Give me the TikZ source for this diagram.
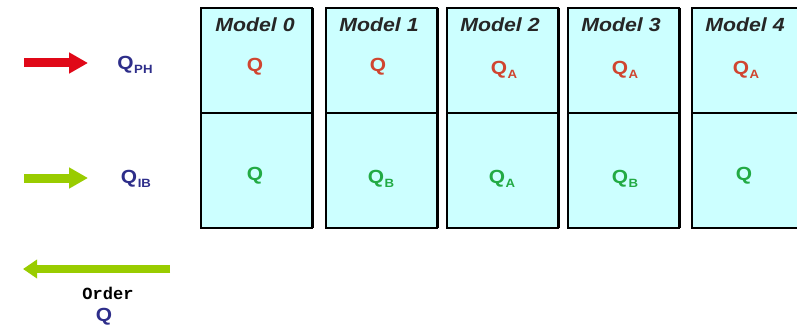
\documentclass[tikz,border=0pt]{standalone}
\usepackage{fontspec}
\setmainfont{Liberation Sans}
\newfontfamily\monob{Liberation Mono}
\usetikzlibrary{arrows.meta}
\definecolor{cellfill}{HTML}{CCFFFF}
\definecolor{qred}{HTML}{D04530}
\definecolor{qgreen}{HTML}{22AA44}
\definecolor{qblue}{HTML}{2E2E8A}
\definecolor{arrred}{HTML}{E00818}
\definecolor{arrgreen}{HTML}{99CC00}
\tikzset{
  cellbox/.style={fill=cellfill, draw=black, line width=1.5pt},
  rightedge/.style={draw=black, line width=3pt},
  midline/.style={draw=black, line width=1.5pt},
  modeltitle/.style={font=\fontsize{19}{19}\selectfont\bfseries\itshape, text=black!85, inner sep=0pt, xscale=1.12},
  qtop/.style={font=\fontsize{19}{19}\selectfont\bfseries, text=qred, inner sep=0pt, xscale=1.1},
  qbot/.style={font=\fontsize{19}{19}\selectfont\bfseries, text=qgreen, inner sep=0pt, xscale=1.1},
  qleg/.style={font=\fontsize{19}{19}\selectfont\bfseries, text=qblue, inner sep=0pt, xscale=1.1},
  legarrow/.style={line width=9pt, -{Triangle[length=19pt,width=20pt]}},
}
\newcommand{\qsub}[1]{Q\kern0.5pt\raisebox{-0.45ex}{\fontsize{12}{12}\selectfont #1}}
\begin{document}
\begin{tikzpicture}[x=1pt,y=-1pt]
\useasboundingbox (0,0) rectangle (797,334);
% boxes
\foreach \i/\xl in {0/201,1/326,2/447,3/568,4/692}{
  \pgfmathsetmacro{\xr}{\xl+111}
  \draw[cellbox] (\xl,8) rectangle (\xr,228);
  \draw[midline] (\xl,113) -- (\xr,113);
  \draw[rightedge] (\xr,8) -- (\xr,228);
}
% titles
\node[modeltitle] (t0) at (255,25) {Model 0};
\node[modeltitle] (t1) at (379,25) {Model 1};
\node[modeltitle] (t2) at (500,25) {Model 2};
\node[modeltitle] (t3) at (621,25) {Model 3};
\node[modeltitle] (t4) at (745,25) {Model 4};
% top labels
\node[qtop] (a0) at (255,67) {Q};
\node[qtop] (a1) at (378,67) {Q};
\node[qtop] (a2) at (504,70) {\qsub{A}};
\node[qtop] (a3) at (625,70) {\qsub{A}};
\node[qtop] (a4) at (746,70) {\qsub{A}};
% bottom labels
\node[qbot] (b0) at (255,176) {Q};
\node[qbot] (b1) at (381,179) {\qsub{B}};
\node[qbot] (b2) at (502,179) {\qsub{A}};
\node[qbot] (b3) at (625,179) {\qsub{B}};
\node[qbot] (b4) at (744,176) {Q};
% legend
\coordinate (r0) at (24,63);
\coordinate (r1) at (88,63);
\draw[legarrow, arrred] (r0) -- (r1);
\node[qleg] (qph) at (135,65) {\qsub{PH}};
\coordinate (g0) at (24,178);
\coordinate (g1) at (88,178);
\draw[legarrow, arrgreen] (g0) -- (g1);
\node[qleg] (qib) at (136,179) {\qsub{IB}};
\coordinate (o0) at (170,269);
\coordinate (o1) at (23,269);
\draw[line width=8pt, arrgreen, -{Triangle[length=14pt,width=18pt]}] (o0) -- (o1);
\node[font=\monob\fontsize{17}{17}\selectfont\bfseries, inner sep=0pt] (ord) at (108,293) {Order};
\node[qleg] (qo) at (104,317) {Q};
\end{tikzpicture}
\end{document}
